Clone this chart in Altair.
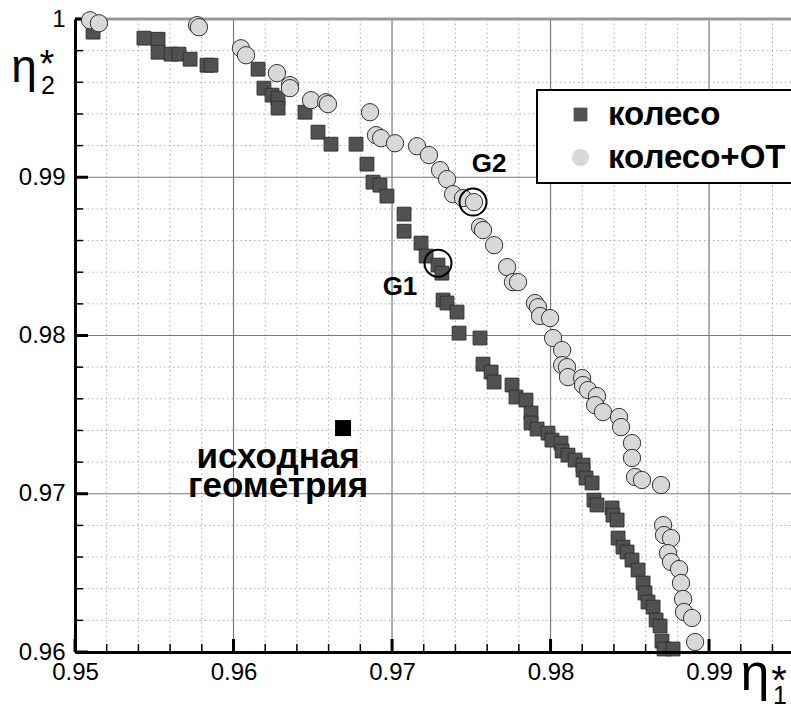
import altair as alt
import pandas as pd

# ---- data ----
SERIES = ["колесо", "колесо+ОТ"]

wheel_x = [0.95114, 0.95435, 0.95524, 0.95524, 0.95606, 0.95656, 0.95726, 0.95833, 0.95858, 0.96155,
           0.96192, 0.96243, 0.96281, 0.96281, 0.96451, 0.96533, 0.96615, 0.96773, 0.96842, 0.96880,
           0.96924, 0.96968, 0.97076, 0.97076, 0.97183, 0.97215, 0.97290, 0.97315, 0.97322, 0.97347,
           0.97410, 0.97423, 0.97555, 0.97574, 0.97625, 0.97644, 0.97757, 0.97782, 0.97845, 0.97877,
           0.97877, 0.97915, 0.97984, 0.98009, 0.98066, 0.98073, 0.98110, 0.98155, 0.98205, 0.98205,
           0.98224, 0.98262, 0.98274, 0.98293, 0.98388, 0.98394, 0.98420, 0.98426, 0.98457, 0.98483,
           0.98514, 0.98552, 0.98584, 0.98596, 0.98615, 0.98647, 0.98666, 0.98691, 0.98703, 0.98716,
           0.98773]
wheel_y = [0.99917, 0.99879, 0.99872, 0.99790, 0.99778, 0.99778, 0.99746, 0.99708, 0.99708, 0.99683,
           0.99563, 0.99519, 0.99500, 0.99437, 0.99411, 0.99285, 0.99209, 0.99209, 0.99083, 0.98969,
           0.98950, 0.98881, 0.98767, 0.98659, 0.98584, 0.98502, 0.98445, 0.98394, 0.98224, 0.98205,
           0.98148, 0.98015, 0.97984, 0.97819, 0.97769, 0.97706, 0.97687, 0.97611, 0.97592, 0.97510,
           0.97447, 0.97409, 0.97383, 0.97339, 0.97320, 0.97270, 0.97244, 0.97213, 0.97181, 0.97150,
           0.97099, 0.97068, 0.96960, 0.96929, 0.96910, 0.96865, 0.96834, 0.96720, 0.96663, 0.96632,
           0.96581, 0.96518, 0.96436, 0.96373, 0.96316, 0.96284, 0.96202, 0.96164, 0.96069, 0.96019,
           0.96019]

wheel_ot_x = [0.95095, 0.95151, 0.95770, 0.95782, 0.96047, 0.96079, 0.96274, 0.96356, 0.96356, 0.96489,
              0.96584, 0.96596, 0.96861, 0.96899, 0.96931, 0.97019, 0.97158, 0.97233, 0.97303, 0.97347,
              0.97385, 0.97448, 0.97517, 0.97555, 0.97574, 0.97644, 0.97726, 0.97763, 0.97795, 0.97902,
              0.97921, 0.97934, 0.97997, 0.98016, 0.98073, 0.98073, 0.98104, 0.98110, 0.98199, 0.98205,
              0.98237, 0.98293, 0.98281, 0.98331, 0.98432, 0.98445, 0.98514, 0.98514, 0.98533, 0.98577,
              0.98697, 0.98710, 0.98716, 0.98760, 0.98741, 0.98760, 0.98811, 0.98823, 0.98836, 0.98842,
              0.98893, 0.98912]
wheel_ot_y = [0.99992, 0.99973, 0.99961, 0.99948, 0.99815, 0.99771, 0.99658, 0.99582, 0.99563, 0.99487,
              0.99474, 0.99462, 0.99411, 0.99266, 0.99247, 0.99215, 0.99196, 0.99140, 0.99045, 0.98988,
              0.98893, 0.98868, 0.98843, 0.98685, 0.98666, 0.98571, 0.98432, 0.98337, 0.98337, 0.98205,
              0.98179, 0.98123, 0.98110, 0.97984, 0.97908, 0.97813, 0.97800, 0.97737, 0.97731, 0.97687,
              0.97655, 0.97617, 0.97560, 0.97516, 0.97485, 0.97421, 0.97320, 0.97226, 0.97106, 0.97087,
              0.97055, 0.96802, 0.96739, 0.96720, 0.96625, 0.96569, 0.96524, 0.96436, 0.96335, 0.96253,
              0.96215, 0.96063]

origin_x = [0.96691]
origin_y = [0.97415]
origin_label = ["исходная", "геометрия"]

g_labels = ["G1", "G2"]
g_x = [0.97290, 0.97511]
g_y = [0.98457, 0.98843]

x_major = [0.95, 0.96, 0.97, 0.98, 0.99]
y_major = [0.96, 0.97, 0.98, 0.99, 1.0]
x_minor = [0.952, 0.954, 0.956, 0.958, 0.962, 0.964, 0.966, 0.968, 0.972, 0.974, 0.976, 0.978,
           0.982, 0.984, 0.986, 0.988, 0.992, 0.994]
y_minor = [0.962, 0.964, 0.966, 0.968, 0.972, 0.974, 0.976, 0.978, 0.982, 0.984, 0.986, 0.988,
           0.992, 0.994, 0.996, 0.998]

# ---- layout ----
W, H = 716, 633
FONT = "Liberation Sans"

xs = alt.Scale(domain=[0.95, 0.99517], nice=False, zero=False)
ys = alt.Scale(domain=[0.96, 1.0], nice=False, zero=False)
x_axis = alt.Axis(values=x_major, format="~g", title=None, grid=False, ticks=False, tickSize=0,
                  domainColor="black", domainWidth=3, labelFont=FONT, labelFontSize=24,
                  labelColor="black", labelPadding=8, labelFlush=False, zindex=2)
y_axis = alt.Axis(values=y_major, format="~g", title=None, grid=False, ticks=False, tickSize=0,
                  domainColor="black", domainWidth=3, labelFont=FONT, labelFontSize=24,
                  labelColor="black", labelPadding=10, labelFlush=False, zindex=2)


def X(f):
    return alt.X(f, type="quantitative", scale=xs, axis=x_axis)


def Y(f):
    return alt.Y(f, type="quantitative", scale=ys, axis=y_axis)


df_xmin = pd.DataFrame({"v": x_minor})
df_ymin = pd.DataFrame({"v": y_minor})
df_xmaj = pd.DataFrame({"v": x_major})
df_ymaj = pd.DataFrame({"v": y_major})

minor_gx = alt.Chart(df_xmin).mark_rule(color="#b0b0b0", strokeWidth=1, strokeDash=[1.5, 3]).encode(x=X("v"))
minor_gy = alt.Chart(df_ymin).mark_rule(color="#b0b0b0", strokeWidth=1, strokeDash=[1.5, 3]).encode(y=Y("v"))
major_gx = alt.Chart(df_xmaj[df_xmaj.v > 0.95]).mark_rule(color="#7a7a7a", strokeWidth=1.2).encode(x=X("v"))
major_gy = alt.Chart(df_ymaj[(df_ymaj.v > 0.96) & (df_ymaj.v < 1.0)]).mark_rule(color="#7a7a7a", strokeWidth=1.2).encode(y=Y("v"))
top_border = alt.Chart(df_ymaj[df_ymaj.v == 1.0]).mark_rule(color="#999999", strokeWidth=3).encode(y=Y("v"))

tick_xmin = alt.Chart(df_xmin).mark_rule(color="black", strokeWidth=1.5).encode(
    x=X("v"), y=alt.value(H), y2=alt.value(H - 8))
tick_xmaj = alt.Chart(df_xmaj).mark_rule(color="black", strokeWidth=3).encode(
    x=X("v"), y=alt.value(H), y2=alt.value(H - 13))
tick_ymin = alt.Chart(df_ymin).mark_rule(color="black", strokeWidth=1.5).encode(
    y=Y("v"), x=alt.value(0), x2=alt.value(8))
tick_ymaj = alt.Chart(df_ymaj).mark_rule(color="black", strokeWidth=3).encode(
    y=Y("v"), x=alt.value(0), x2=alt.value(13))

pts = pd.concat([
    pd.DataFrame({"x": wheel_x, "y": wheel_y, "series": SERIES[0]}),
    pd.DataFrame({"x": wheel_ot_x, "y": wheel_ot_y, "series": SERIES[1]}),
])

legend = alt.Legend(
    orient="none", legendX=462, legendY=71, title=None,
    labelFont=FONT, labelFontSize=33, labelFontWeight="bold", labelColor="black", labelLimit=400,
    padding=8, symbolOffset=19, labelOffset=11, rowPadding=9,
    strokeColor="black", fillColor="white",
    symbolStrokeColor="#333333", symbolStrokeWidth=1, symbolOpacity=1,
)

points = alt.Chart(pts).mark_point(filled=True, opacity=1, stroke="#333333", strokeWidth=1).encode(
    x=X("x"), y=Y("y"),
    color=alt.Color("series:N", scale=alt.Scale(domain=SERIES, range=["#515151", "#d8d8d8"]), legend=legend),
    shape=alt.Shape("series:N", scale=alt.Scale(domain=SERIES, range=["square", "circle"]), legend=legend),
    size=alt.Size("series:N", scale=alt.Scale(domain=SERIES, range=[190, 300]), legend=legend),
)

df_origin = pd.DataFrame({"x": origin_x, "y": origin_y, "t": ["\n".join(origin_label)]})
origin_pt = alt.Chart(df_origin).mark_square(color="black", size=256, opacity=1).encode(x=X("x"), y=Y("y"))
origin_txt = alt.Chart(df_origin).mark_text(
    align="center", baseline="alphabetic", dx=-65, dy=40, lineBreak="\n", lineHeight=29,
    font=FONT, fontSize=35, fontWeight="bold", color="black").encode(x=X("x"), y=Y("y"), text="t:N")

df_g = pd.DataFrame({"x": g_x, "y": g_y, "t": g_labels})
g_rings = alt.Chart(df_g).mark_point(shape="circle", filled=False, size=729, stroke="black",
                                     strokeWidth=2, opacity=1).encode(x=X("x"), y=Y("y"))
g1_txt = alt.Chart(df_g.iloc[[0]]).mark_text(
    align="center", baseline="alphabetic", dx=-38, dy=32, font=FONT, fontSize=26,
    fontWeight="bold", color="black").encode(x=X("x"), y=Y("y"), text="t:N")
g2_txt = alt.Chart(df_g.iloc[[1]]).mark_text(
    align="center", baseline="alphabetic", dx=16, dy=-30, font=FONT, fontSize=26,
    fontWeight="bold", color="black").encode(x=X("x"), y=Y("y"), text="t:N")


def label(txt, x, y, size, align="center"):
    return alt.Chart(pd.DataFrame({"t": [txt]})).mark_text(
        align=align, baseline="alphabetic", font=FONT, fontSize=size, color="black").encode(
        x=alt.value(x), y=alt.value(y), text="t:N")


titles = [
    label("η", -51, 63, 46), label("*", -28, 58, 38), label("2", -27, 75, 25),
    label("η", 680, 671, 52), label("*", 704, 675, 40), label("1", 705, 685, 25),
]

chart = alt.layer(
    minor_gx, minor_gy, major_gx, major_gy, top_border,
    tick_xmin, tick_xmaj, tick_ymin, tick_ymaj,
    points, origin_pt, origin_txt, g_rings, g1_txt, g2_txt, *titles,
).properties(
    width=W, height=H,
    autosize=alt.AutoSizeParams(type="none"),
    padding={"left": 75, "top": 19, "right": 0, "bottom": 57},
    background="white",
).configure_view(stroke="transparent").configure_legend(strokeWidth=2)

chart.save("out.html", embed_options={"renderer": "svg", "actions": False})
